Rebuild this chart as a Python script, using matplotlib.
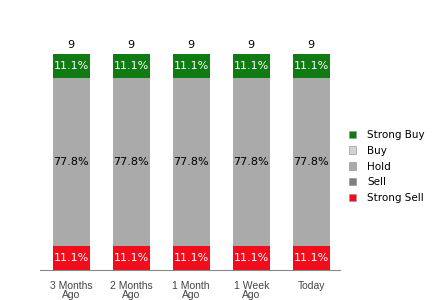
import numpy as np
import matplotlib.pyplot as plt
from matplotlib.patches import Patch

# Analyst ratings over time
periods = ["3 Months\nAgo", "2 Months\nAgo", "1 Month\nAgo", "1 Week\nAgo", "Today"]
strong_buy = [1, 1, 1, 1, 1]
buy = [0, 0, 0, 0, 0]
hold = [7, 7, 7, 7, 7]
sell = [0, 0, 0, 0, 0]
strong_sell = [1, 1, 1, 1, 1]

labels = ["Strong Sell", "Sell", "Hold", "Buy", "Strong Buy"]
colors = ["#f20d1c", "#7f7f7f", "#aaaaaa", "#d3d3d3", "#0f7b12"]
txt_colors = ["white", "white", "black", "black", "white"]
series = [strong_sell, sell, hold, buy, strong_buy]

fig = plt.figure(figsize=(4.4, 3.0), dpi=100)
ax = fig.add_axes([40 / 440, 0.1, 300 / 440, 0.8])

x = np.arange(len(periods))
totals = np.sum(series, axis=0)
bottom = np.zeros(len(periods))
for vals, col, tc in zip(series, colors, txt_colors):
    vals = np.array(vals, dtype=float)
    ax.bar(x, vals, 0.62, bottom=bottom, color=col)
    for i, v in enumerate(vals):
        if v > 0:
            ax.text(x[i], bottom[i] + v / 2, f"{v / totals[i] * 100:.1f}%",
                    ha="center", va="center", color=tc, fontsize=8)
    bottom += vals

for i, t in enumerate(totals):
    ax.text(x[i], t + 0.15, str(t), ha="center", va="bottom", fontsize=8)

ax.set_xlim(-0.52, 4.48)
ax.set_ylim(0, 10)
ax.set_yticks([])
ax.set_xticks(x)
ax.set_xticklabels(periods, fontsize=7.5, color="#444444", family="Liberation Sans",
                   linespacing=0.8)
ax.tick_params(axis="x", length=0, pad=8)
for s in ["top", "right", "left"]:
    ax.spines[s].set_visible(False)
ax.spines["bottom"].set_color("#888888")

handles = [Patch(facecolor=c, edgecolor="#999999", linewidth=0.5, label=l)
           for l, c in zip(labels, colors)][::-1]
fig.legend(handles=handles, loc="center left", bbox_to_anchor=(0.772, 0.445),
           frameon=False, fontsize=7.5, handlelength=0.7, handleheight=0.7,
           handletextpad=1.05, labelspacing=0.55)

fig.savefig("out.png", dpi=100)
